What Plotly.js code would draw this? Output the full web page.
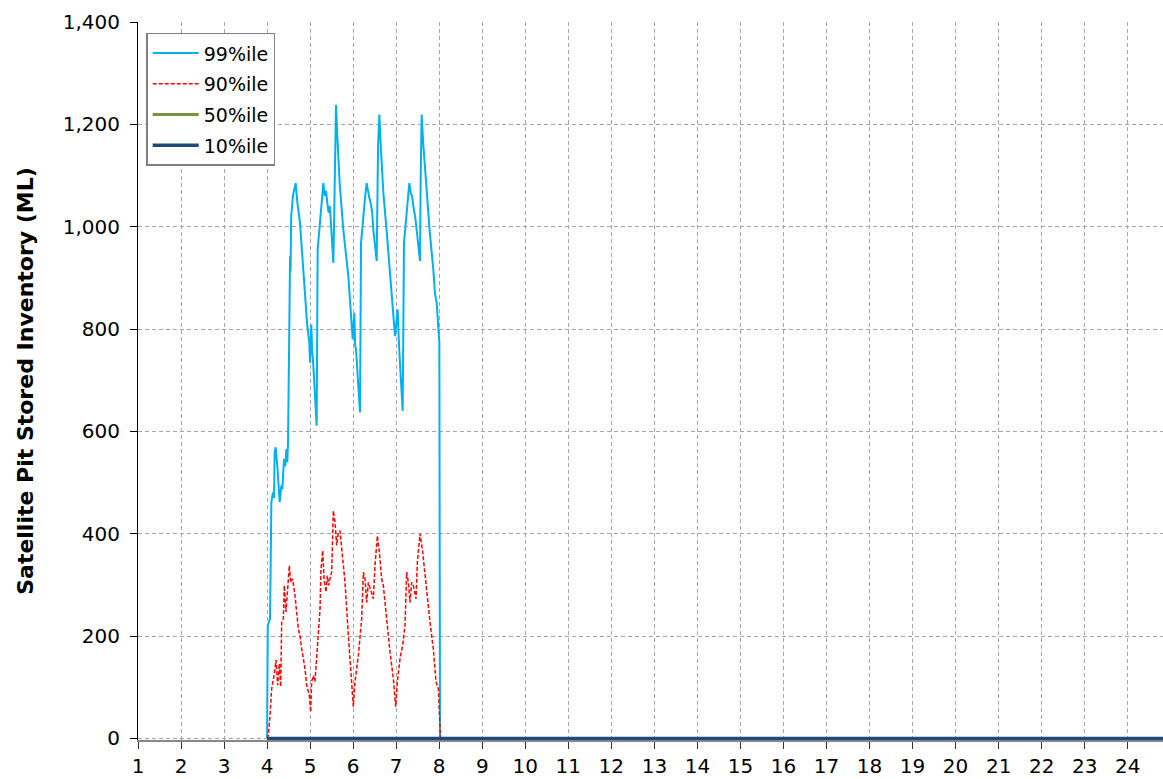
<!DOCTYPE html>
<html>
<head>
<meta charset="utf-8">
<script src="https://cdn.plot.ly/plotly-3.0.1.min.js"></script>
<style>html,body{margin:0;padding:0;background:#fff;}#chart{width:1163px;height:779px;}</style>
</head>
<body>
<div id="chart"></div>
<script>
// Series names
const seriesNames = ["99%ile", "90%ile", "50%ile", "10%ile"];

// 99%ile
const x99 = [4.0, 4.015, 4.044, 4.068, 4.083, 4.099, 4.137, 4.161, 4.176, 4.199, 4.238, 4.269, 4.292, 4.331, 4.354, 4.393, 4.424, 4.447, 4.470, 4.486, 4.501, 4.515, 4.533, 4.545, 4.56, 4.60, 4.664, 4.70, 4.765, 4.82, 4.881, 4.93, 4.982, 4.997, 5.028, 5.045, 5.075, 5.11, 5.152, 5.175, 5.230, 5.27, 5.307, 5.34, 5.37, 5.400, 5.431, 5.46, 5.50, 5.540, 5.555, 5.575, 5.601, 5.63, 5.69, 5.772, 5.83, 5.888, 5.94, 5.989, 6.028, 6.045, 6.066, 6.11, 6.159, 6.183, 6.237, 6.28, 6.314, 6.35, 6.38, 6.407, 6.44, 6.469, 6.51, 6.547, 6.578, 6.609, 6.64, 6.702, 6.78, 6.856, 6.92, 6.973, 7.035, 7.05, 7.066, 7.11, 7.151, 7.181, 7.243, 7.305, 7.34, 7.37, 7.398, 7.44, 7.476, 7.51, 7.553, 7.57, 7.592, 7.63, 7.708, 7.78, 7.863, 7.90, 7.941, 7.97, 8.003, 8.018, 25];
const y99 = [0, 220, 228, 234, 337, 462, 481, 470, 559, 569, 532, 494, 462, 494, 487, 546, 532, 565, 540, 579, 774, 790, 942, 913, 1020, 1060, 1085, 1050, 1007, 940, 877, 810, 773, 734, 809, 760, 728, 670, 611, 955, 1007, 1040, 1085, 1060, 1070, 1046, 1027, 1040, 970, 929, 1000, 1150, 1238, 1180, 1080, 994, 950, 903, 840, 780, 832, 770, 760, 700, 637, 968, 1027, 1060, 1085, 1065, 1055, 1046, 1030, 994, 960, 933, 1154, 1219, 1160, 1066, 990, 916, 850, 786, 838, 800, 767, 700, 640, 968, 1033, 1085, 1065, 1060, 1040, 1020, 994, 960, 933, 1100, 1219, 1160, 1072, 990, 916, 870, 851, 810, 773, 0, 0];

// 90%ile
const x90 = [4.0, 4.029, 4.068, 4.106, 4.161, 4.207, 4.246, 4.285, 4.316, 4.339, 4.378, 4.401, 4.439, 4.471, 4.517, 4.548, 4.594, 4.649, 4.726, 4.765, 4.804, 4.881, 4.920, 4.982, 5.013, 5.036, 5.075, 5.113, 5.152, 5.191, 5.230, 5.253, 5.292, 5.323, 5.369, 5.400, 5.431, 5.462, 5.501, 5.539, 5.578, 5.617, 5.656, 5.694, 5.756, 5.811, 5.888, 5.966, 6.004, 6.043, 6.121, 6.198, 6.237, 6.275, 6.314, 6.353, 6.407, 6.469, 6.508, 6.562, 6.609, 6.663, 6.701, 6.779, 6.856, 6.934, 6.988, 7.027, 7.089, 7.151, 7.205, 7.244, 7.282, 7.321, 7.360, 7.399, 7.461, 7.492, 7.554, 7.616, 7.693, 7.786, 7.863, 7.925, 7.980, 8.018, 8.03, 25];
const y90 = [0, 6, 45, 97, 123, 153, 104, 146, 101, 227, 234, 299, 247, 286, 338, 305, 312, 279, 214, 201, 175, 136, 104, 84, 52, 111, 123, 111, 162, 201, 253, 331, 367, 312, 286, 318, 299, 312, 325, 445, 423, 377, 403, 406, 344, 305, 201, 104, 62, 111, 162, 234, 325, 312, 266, 305, 292, 273, 338, 396, 364, 312, 299, 227, 169, 117, 62, 111, 156, 182, 221, 325, 305, 266, 305, 299, 273, 344, 400, 364, 299, 227, 175, 111, 97, 6, 0, 0];

// 50%ile and 10%ile
const x50 = [4.0, 25];
const y50 = [0, 0];
const x10 = [4.0, 25];
const y10 = [0, 0];

// Axis ticks
const xTicks = [1, 2, 3, 4, 5, 6, 7, 8, 9, 10, 11, 12, 13, 14, 15, 16, 17, 18, 19, 20, 21, 22, 23, 24];
const yTicks = [0, 200, 400, 600, 800, 1000, 1200, 1400];
const yTitle = "Satellite Pit Stored Inventory (ML)";

const FONT = "'DejaVu Sans', sans-serif";

const traces = [
  {x: x99, y: y99, name: seriesNames[0], mode: "lines", line: {color: "#00B0F0", width: 2}, legendgroup: "a"},
  {x: x90, y: y90, name: seriesNames[1], mode: "lines", line: {color: "#FF0000", width: 1.5, dash: "4px,2px"}, legendgroup: "b"},
  {x: x50, y: y50, name: seriesNames[2], mode: "lines", line: {color: "#77933C", width: 3}, legendgroup: "c"},
  {x: x10, y: y10, name: seriesNames[3], mode: "lines", line: {color: "#1F497D", width: 3.5}, legendgroup: "d"}
];

const layout = {
  width: 1163, height: 779,
  margin: {l: 138, r: 0, t: 22, b: 39},
  paper_bgcolor: "#fff", plot_bgcolor: "#fff",
  font: {family: FONT, size: 20, color: "#000"},
  showlegend: true,
  legend: {
    x: 0.008, y: 0.985, xanchor: "left", yanchor: "top",
    bgcolor: "#fff", bordercolor: "#808080", borderwidth: 1.5,
    font: {family: FONT, size: 19, color: "#000"},
    traceorder: "grouped", tracegroupgap: 3, itemwidth: 46
  },
  xaxis: {
    range: [1, 24.82], tickmode: "array", tickvals: xTicks, ticktext: xTicks.map(String),
    showgrid: true, gridcolor: "#A6A6A6", griddash: "4px,3px", gridwidth: 1,
    showline: true, linecolor: "#868686", linewidth: 1.5, layer: "below traces",
    ticks: "outside", ticklen: 7, tickcolor: "#333", tickwidth: 1,
    zeroline: false, tickfont: {family: FONT, size: 20}
  },
  yaxis: {
    range: [-3, 1400], tickmode: "array", tickvals: yTicks, tickformat: ",d",
    showgrid: true, gridcolor: "#A6A6A6", griddash: "4px,3px", gridwidth: 1,
    showline: true, linecolor: "#000", linewidth: 1,
    ticks: "outside", ticklen: 7, tickcolor: "#000",
    ticklabelstandoff: 6,
    zeroline: false, tickfont: {family: FONT, size: 20},
    title: {text: yTitle, font: {family: FONT, size: 22, weight: "bold"}, standoff: 23}
  },
  separators: ".,"
};

Plotly.newPlot("chart", traces, layout, {displayModeBar: false, staticPlot: true});
</script>
</body>
</html>
